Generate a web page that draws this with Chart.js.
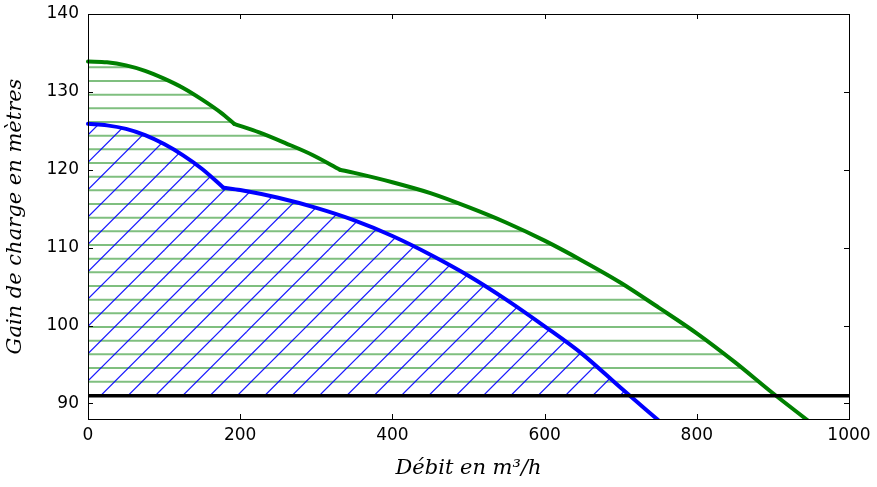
<!DOCTYPE html>
<html>
<head>
<meta charset="utf-8">
<script src="https://cdn.jsdelivr.net/npm/chart.js@4.4.0/dist/chart.umd.min.js"></script>
<style>
  html, body { margin: 0; padding: 0; background: #fff; }
</style>
</head>
<body>
<canvas id="pumpChart" width="877" height="487"></canvas>
<script>
// courbes : debit (m3/h) -> gain de charge (m)
const greenQ = [0, 25, 50, 75, 100, 125, 150, 175, 192, 225, 260, 295, 331, 350, 400, 450, 500, 550, 600, 650, 700, 750, 800, 850, 900, 946];
const greenH = [133.9, 133.8, 133.4, 132.7, 131.7, 130.5, 129.0, 127.3, 125.9, 124.8, 123.4, 121.9, 120.0, 119.6, 118.4, 117.0, 115.2, 113.2, 110.9, 108.3, 105.5, 102.3, 99.0, 95.3, 91.3, 87.8];
const greenKinks = [8, 12];   // indices des points anguleux (192 et 331 m3/h)
const blueQ = [0, 25, 50, 75, 100, 125, 150, 178, 200, 250, 300, 350, 400, 450, 500, 550, 600, 650, 700, 750];
const blueH = [125.9, 125.7, 125.25, 124.45, 123.3, 121.85, 120.1, 117.7, 117.4, 116.4, 115.1, 113.5, 111.5, 109.1, 106.4, 103.3, 99.9, 96.3, 92.0, 87.8];
const blueKinks = [7];        // 178 m3/h
const greenEdgeQ = [0, 0];
const greenEdgeH = [140, 133.9];
const blueEdgeQ = [0, 0];
const blueEdgeH = [133.9, 125.9];
const limitQ = [0, 1000];
const limitH = [91, 91];
const hMin = 91;
const xTicks = [0, 200, 400, 600, 800, 1000];
const yTicks = [90, 100, 110, 120, 130, 140];

const pts = (xs, ys) => xs.map((q, i) => ({ x: q, y: ys[i] }));

// decoupe une courbe en morceaux lisses entre les points anguleux
function pieces(xs, ys, kinks) {
  const cuts = [0, ...kinks, xs.length - 1];
  const out = [];
  for (let i = 0; i < cuts.length - 1; i++) {
    out.push(pts(xs.slice(cuts[i], cuts[i + 1] + 1), ys.slice(cuts[i], cuts[i + 1] + 1)));
  }
  return out;
}

// hachures (motif ancre sur l'origine du canvas)
function hatchLines() {
  const c = document.createElement('canvas');
  c.width = 82; c.height = 82;
  const g = c.getContext('2d');
  g.strokeStyle = 'rgba(0,128,0,0.5)';
  g.lineWidth = 2;
  for (let k = -1; k < 7; k++) {
    const y = 12.67 + k * 82 / 6;
    g.beginPath(); g.moveTo(0, y); g.lineTo(82, y); g.stroke();
  }
  return g.createPattern(c, 'repeat');
}
function hatchDiag() {
  const c = document.createElement('canvas');
  c.width = 82; c.height = 82;
  const g = c.getContext('2d');
  g.strokeStyle = 'rgba(0,0,255,0.9)';
  g.lineWidth = 1.2;
  for (let k = -1; k < 8; k++) {
    const cc = 4.3 + k * 82 / 3;
    g.beginPath(); g.moveTo(-10, cc + 10); g.lineTo(92, cc - 92); g.stroke();
  }
  return g.createPattern(c, 'repeat');
}

const frame = {
  id: 'frame',
  afterDatasetsDraw(chart) {
    const { ctx, chartArea: a, scales: { x, y } } = chart;
    ctx.save();
    ctx.strokeStyle = '#000';
    ctx.lineWidth = 1;
    ctx.beginPath();
    xTicks.forEach(v => {
      const px = Math.round(x.getPixelForValue(v)) + 0.5;
      ctx.moveTo(px, a.bottom); ctx.lineTo(px, a.bottom - 5);
      ctx.moveTo(px, a.top); ctx.lineTo(px, a.top + 5);
    });
    yTicks.forEach(v => {
      const py = Math.round(y.getPixelForValue(v)) + 0.5;
      ctx.moveTo(a.left, py); ctx.lineTo(a.left + 5, py);
      ctx.moveTo(a.right, py); ctx.lineTo(a.right - 5, py);
    });
    ctx.stroke();
    ctx.strokeRect(a.left + 0.5, a.top + 0.5, a.right - a.left, a.bottom - a.top);
    ctx.restore();
  }
};

const tickFont = { family: 'DejaVu Sans', size: 17 };
const titleFont = { family: 'DejaVu Serif', size: 21, style: 'italic' };
const curveClip = { left: 3, top: 3, right: 0, bottom: 0 };

const curveLine = (data, color, order) => ({
  data, borderColor: color, borderWidth: 4, pointRadius: 0, borderCapStyle: 'round',
  cubicInterpolationMode: 'monotone', clip: curveClip, fill: false, order
});
const hatchArea = (data, pattern, order) => ({
  data, borderColor: 'rgba(0,0,0,0)', borderWidth: 0, pointRadius: 0, tension: 0,
  fill: { target: { value: hMin }, above: pattern, below: 'rgba(0,0,0,0)' }, order
});

new Chart(document.getElementById('pumpChart'), {
  type: 'line',
  data: {
    datasets: [
      { data: pts(limitQ, limitH), borderColor: '#000', borderWidth: 3.5, pointRadius: 0, fill: false, order: 0 },
      ...pieces(blueQ, blueH, blueKinks).map(p => curveLine(p, '#0000ff', 1)),
      hatchArea(pts(blueQ, blueH), hatchDiag(), 2),
      ...pieces(greenQ, greenH, greenKinks).map(p => curveLine(p, '#008000', 3)),
      hatchArea(pts(greenQ, greenH), hatchLines(), 4),
      { data: pts(blueEdgeQ, blueEdgeH), borderColor: '#0000ff', borderWidth: 2, pointRadius: 0, fill: false, order: 5 },
      { data: pts(greenEdgeQ, greenEdgeH), borderColor: '#008000', borderWidth: 2, pointRadius: 0, fill: false, order: 5 }
    ]
  },
  options: {
    responsive: false,
    animation: false,
    devicePixelRatio: 1,
    layout: { padding: { top: 14, right: 28, left: 0, bottom: 0 } },
    plugins: { legend: { display: false }, tooltip: { enabled: false } },
    scales: {
      x: {
        type: 'linear', min: 0, max: 1000,
        afterFit: s => { s.height = 68; s.paddingLeft = 0; s.paddingRight = 0; },
        afterBuildTicks: s => { s.ticks = xTicks.map(v => ({ value: v })); },
        grid: { display: false, drawTicks: false }, border: { display: false },
        ticks: { padding: 6, color: '#000', font: tickFont, maxRotation: 0, autoSkip: false, callback: v => String(v) },
        title: { display: true, text: 'Débit en m³/h', color: '#000', font: titleFont, padding: { top: 0, bottom: 6 } }
      },
      y: {
        type: 'linear', min: 88, max: 140,
        afterFit: s => { s.width = 88; s.paddingTop = 0; s.paddingBottom = 0; },
        afterBuildTicks: s => { s.ticks = yTicks.map(v => ({ value: v })); },
        grid: { display: false, drawTicks: false }, border: { display: false },
        ticks: { padding: 9, color: '#000', font: tickFont, autoSkip: false, callback: v => String(v) },
        title: { display: true, text: 'Gain de charge en mètres', color: '#000', font: titleFont, padding: { top: 3, bottom: 0 } }
      }
    }
  },
  plugins: [frame]
});
</script>
</body>
</html>
